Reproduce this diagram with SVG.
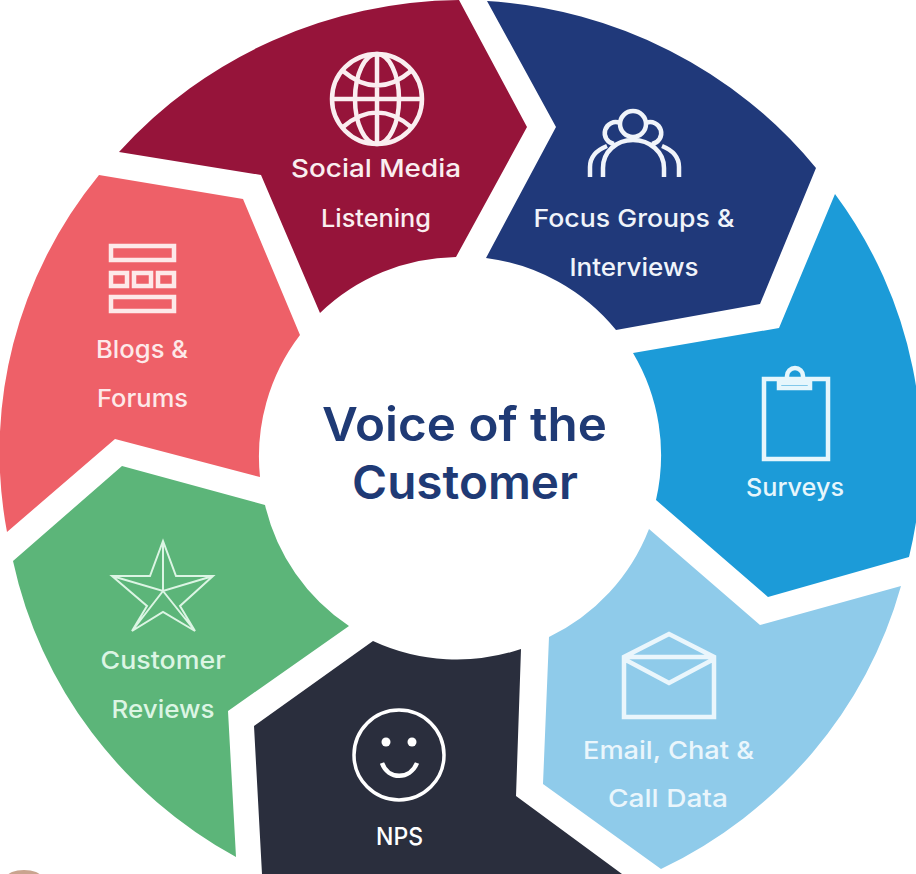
<svg xmlns="http://www.w3.org/2000/svg" width="916" height="874" viewBox="0 0 916 874">
<style>
.l{font-family:"Inter","Liberation Sans",sans-serif;font-size:24.500px;font-weight:500;text-anchor:middle}
.i{fill:none;stroke-width:4.500}
.t{font-family:"Inter","Liberation Sans",sans-serif;font-size:47px;font-weight:600;fill:#1f3a75;text-anchor:middle}
</style>
<rect width="916" height="874" fill="#fff"/>
<ellipse cx="24" cy="877" rx="17" ry="7" fill="#c9a48f"/>
<g id="social-media">
<path fill="#96143a" d="M119 152A458 445 0 0 1 459 0L527 127L456 257A200 200 0 0 0 320 313L261 175Z"/>
<g class="i" stroke="#faeef0"><circle cx="377" cy="99" r="45"/><ellipse cx="377" cy="99" rx="22" ry="45"/><path d="M377 54V144M332 99H422M343 71Q377 100 411 71M343 127Q377 98 411 127"/></g>
<text class="l" fill="#faeef0" textLength="170" lengthAdjust="spacingAndGlyphs" x="376" y="177">Social Media</text>
<text class="l" fill="#faeef0" textLength="110" lengthAdjust="spacingAndGlyphs" x="376" y="227">Listening</text>
</g>
<g id="focus-groups">
<path fill="#20397a" d="M487 1A458 445 0 0 1 816 168L760 304L616 330A200 200 0 0 0 486 258L556 127Z"/>
<g class="i" stroke="#f0f4fa"><circle cx="633" cy="124" r="13"/><path d="M620 123A11 11 0 1 0 614 144M646 123A11 11 0 1 1 652 144M603 177V168C603 152 616 140 633 140C650 140 664 152 664 168V177M590 177V167C590 157 597 150 607 146M679 177V167C679 157 672 150 662 146"/></g>
<text class="l" fill="#f0f4fa" textLength="201" lengthAdjust="spacingAndGlyphs" x="634" y="227">Focus Groups &amp;</text>
<text class="l" fill="#f0f4fa" textLength="129" lengthAdjust="spacingAndGlyphs" x="634" y="276">Interviews</text>
</g>
<g id="surveys">
<path fill="#1c9bd8" d="M835 194A458 445 0 0 1 909 557L768 597L656 500A200 200 0 0 0 633 353L779 328Z"/>
<g class="i" stroke="#e6f6fc"><rect x="764" y="379" width="64" height="80"/><path d="M779 388H810V383H779ZM787 382V376A8 8 0 0 1 803 376V382"/></g>
<text class="l" fill="#e6f6fc" textLength="98" lengthAdjust="spacingAndGlyphs" x="795" y="496">Surveys</text>
</g>
<g id="email-chat">
<path fill="#8fcbea" d="M901 586A458 445 0 0 1 661 869L543 784L549 637A200 200 0 0 0 649 529L760 625Z"/>
<g class="i" stroke="#eaf6fc"><path d="M624 717H714V657L669 634L624 657ZM624 657H714M624 659L669 683L714 659"/></g>
<text class="l" fill="#eaf6fc" textLength="171" lengthAdjust="spacingAndGlyphs" x="668.500" y="759">Email, Chat &amp;</text>
<text class="l" fill="#eaf6fc" textLength="120" lengthAdjust="spacingAndGlyphs" x="668" y="807">Call Data</text>
</g>
<g id="nps">
<path fill="#2a2e3d" d="M373 641A200 200 0 0 0 521 649L516 796L622 874H262L254 726Z"/>
<g class="i" stroke="#fff"><circle cx="399" cy="755" r="45" stroke-width="3.500"/><path d="M382 763C388 780 410 780 417 763"/></g>
<circle cx="386" cy="742" r="4.500" fill="#fff"/><circle cx="412" cy="742" r="4.500" fill="#fff"/>
<text class="l" fill="#fff" textLength="47" lengthAdjust="spacingAndGlyphs" x="399.500" y="845">NPS</text>
</g>
<g id="customer-reviews">
<path fill="#5cb579" d="M122 466L265 505A200 200 0 0 0 349 626L228 711L236 857A458 445 0 0 1 13 561Z"/>
<g fill="none" stroke="#dcf5e4" stroke-width="2"><path d="M163 541L176 576H213L180 606L195 631L163 612L132 631L147 606L112 576H150ZM163 541V591M112 576L163 591L213 576M132 631L163 591L195 631"/></g>
<text class="l" fill="#dcf5e4" textLength="125" lengthAdjust="spacingAndGlyphs" x="163" y="669">Customer</text>
<text class="l" fill="#dcf5e4" textLength="103" lengthAdjust="spacingAndGlyphs" x="163" y="718">Reviews</text>
</g>
<g id="blogs-forums">
<path fill="#ee6068" d="M99 175L243 199L300 335A200 200 0 0 0 260 477L115 439L7 532A458 445 0 0 1 99 175Z"/>
<g class="i" stroke="#fde9e9"><rect x="111" y="246" width="63" height="14"/><rect x="111" y="273" width="16" height="13"/><rect x="134" y="273" width="17" height="13"/><rect x="158" y="273" width="16" height="13"/><rect x="111" y="297" width="63" height="14"/></g>
<text class="l" fill="#fde9e9" textLength="92" lengthAdjust="spacingAndGlyphs" x="142" y="358">Blogs &amp;</text>
<text class="l" fill="#fde9e9" textLength="91" lengthAdjust="spacingAndGlyphs" x="142.500" y="407">Forums</text>
</g>
<g id="center">
<text class="t" textLength="285" lengthAdjust="spacingAndGlyphs" x="464.500" y="441">Voice of the</text>
<text class="t" textLength="226" lengthAdjust="spacingAndGlyphs" x="465" y="499">Customer</text>
</g>
</svg>
